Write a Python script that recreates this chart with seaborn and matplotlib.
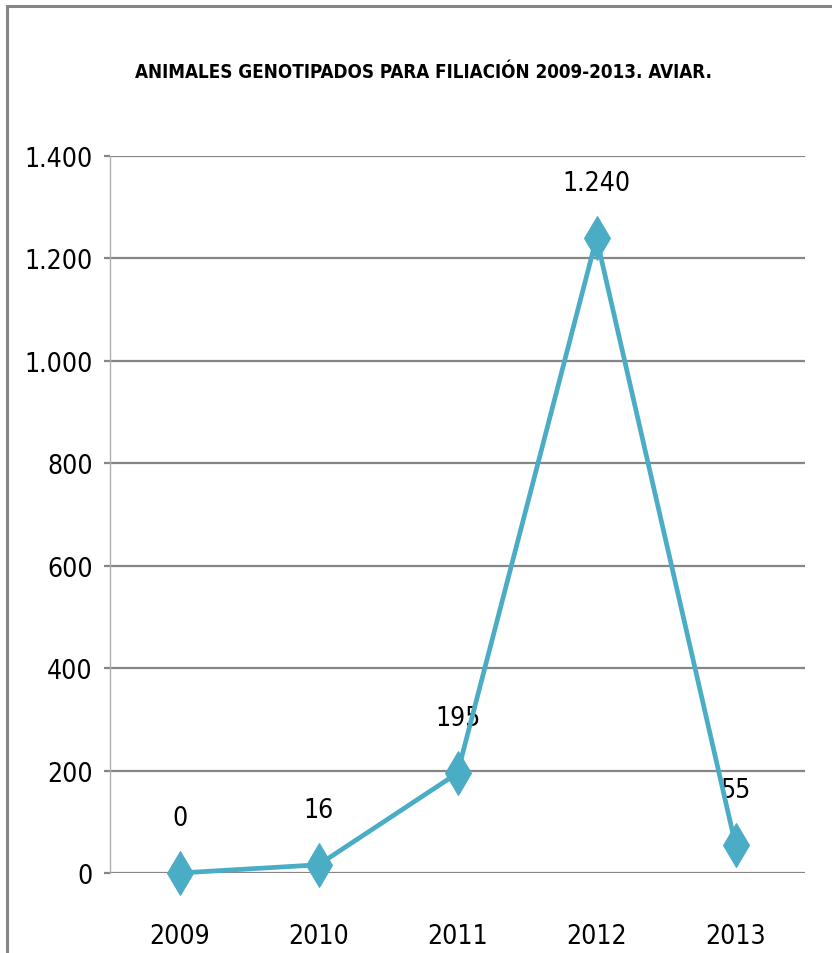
import matplotlib
matplotlib.use("Agg")
import matplotlib.pyplot as plt
import seaborn as sns
import pandas as pd
from matplotlib.patches import Rectangle
from matplotlib.ticker import FuncFormatter

years = ["2009", "2010", "2011", "2012", "2013"]
values = [0, 16, 195, 1240, 55]
labels = ["0", "16", "195", "1.240", "55"]
yticks = [0, 200, 400, 600, 800, 1000, 1200, 1400]
title = "ANIMALES GENOTIPADOS PARA FILIACIÓN 2009-2013. AVIAR."

sns.set_theme(style="white")
plt.rcParams["font.family"] = ["DejaVu Sans"]
plt.rcParams["font.stretch"] = "condensed"

fig = plt.figure(figsize=(8.32, 9.54), dpi=100)
ax = fig.add_axes([110 / 832, 1 - 874 / 954, 695 / 832, 717 / 954])

df = pd.DataFrame({"year": years, "value": values})
color = "#4BACC6"
sns.lineplot(data=df, x="year", y="value", ax=ax, color=color, linewidth=3.4,
             marker="d", markersize=22, markeredgecolor=color, markerfacecolor=color,
             clip_on=False, zorder=5)

ax.set_xlim(-0.5, 4.5)
ax.set_ylim(0, 1400)
ax.set_yticks(yticks)
ax.yaxis.set_major_formatter(FuncFormatter(lambda v, p: f"{int(v):,}".replace(",", ".")))
ax.set_xlabel("")
ax.set_ylabel("")
ax.grid(axis="y", color="#868686", linewidth=1.6)
ax.grid(axis="x", visible=False)
ax.set_axisbelow(True)
for s in ["top", "right", "bottom"]:
    ax.spines[s].set_visible(False)
ax.spines["left"].set_color("#b0b0b0")
ax.spines["left"].set_linewidth(1.0)
ax.tick_params(axis="y", length=4.5, width=1.6, color="#868686", pad=8,
               labelsize=19, labelcolor="black", left=True)
ax.tick_params(axis="x", length=0, pad=36, labelsize=19, labelcolor="black")
for t in ax.get_xticklabels() + ax.get_yticklabels():
    t.set_fontstretch("condensed")

for i, (v, lab) in enumerate(zip(values, labels)):
    ax.annotate(lab, (i, v), xytext=(0, 55), textcoords="offset pixels",
                ha="center", va="center", fontsize=19, color="black",
                fontstretch="condensed")

fig.text(0.509, 1 - 73 / 954, title, ha="center", va="center",
         fontsize=13.5, fontweight="bold", color="black", fontstretch="condensed")

fig.patches.append(Rectangle((7 / 832, -0.1), 1.2, 1.1 - 7 / 954,
                             transform=fig.transFigure, fill=False,
                             edgecolor="#868686", linewidth=2.2))

fig.savefig("out.png", dpi=100)
